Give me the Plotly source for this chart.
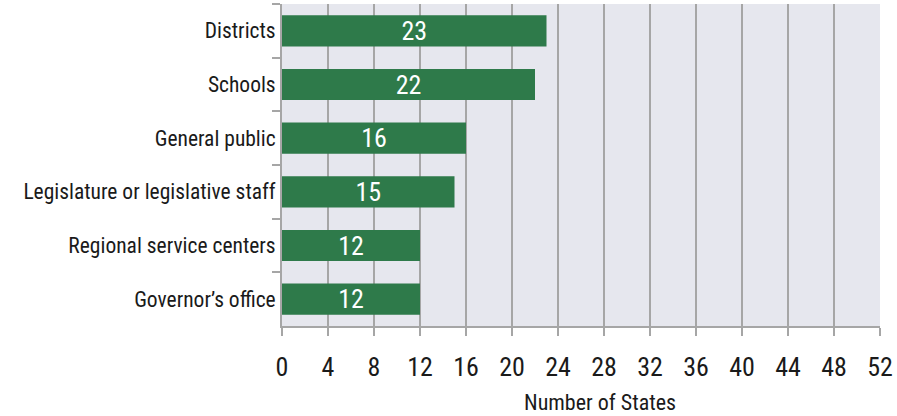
import plotly.graph_objects as go

categories = ["Districts", "Schools", "General public", "Legislature or legislative staff",
              "Regional service centers", "Governor\u2019s office"]
values = [23, 22, 16, 15, 12, 12]
x_ticks = list(range(0, 53, 4))

FONT = "Roboto Condensed, Liberation Sans, Arial, sans-serif"
GRID = "#a6a6a6"
TXT = "#1a1a1a"

fig = go.Figure(go.Bar(
    y=categories, x=values, orientation="h",
    marker=dict(color="#2e7a4a", line=dict(width=0)),
    width=0.58,
    text=[str(v) for v in values], textposition="inside", insidetextanchor="middle",
    constraintext="none",
    textangle=0, textfont=dict(color="white", size=26, family=FONT, weight=400),
    hoverinfo="skip",
))

fig.update_layout(
    width=897, height=416,
    margin=dict(l=282, r=17, t=4, b=90),
    plot_bgcolor="#e6e7ee", paper_bgcolor="white",
    font=dict(family=FONT, color=TXT, weight=400),
    showlegend=False,
    xaxis=dict(range=[0, 52], tickvals=x_ticks, ticks="outside", ticklen=8, tickcolor=GRID,
               tickwidth=2, showgrid=True, gridcolor=GRID, gridwidth=2, showline=True,
               linecolor=GRID, linewidth=2, zeroline=False,
               tickfont=dict(size=26, color=TXT, family=FONT, weight=400),
               ticklabelstandoff=9, fixedrange=True),
    yaxis=dict(autorange="reversed", tickson="boundaries", ticks="outside", ticklen=8,
               tickcolor=GRID, tickwidth=1.5, showline=True, linecolor=GRID, linewidth=2,
               tickfont=dict(size=21.5, color=TXT, family=FONT, weight=400),
               showgrid=False, fixedrange=True),
    annotations=[dict(text="Number of States", xref="paper", yref="paper",
                      x=(600 - 282) / (880 - 282), y=0, yshift=-76, showarrow=False,
                      xanchor="center", yanchor="middle",
                      font=dict(size=22, color=TXT, family=FONT, weight=400))],
)

fig.write_html("out.html", config={"displayModeBar": False},
               post_script="document.body.style.margin='0';")
